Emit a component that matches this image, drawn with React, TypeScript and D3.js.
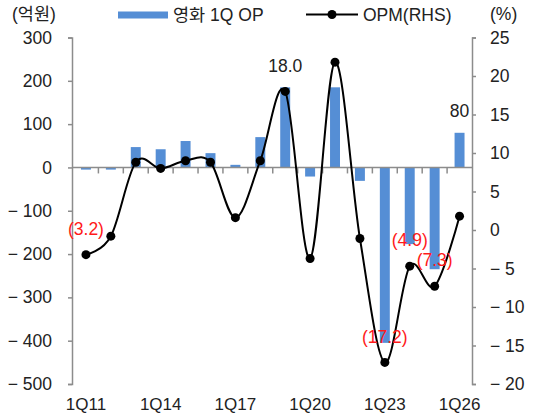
import { useEffect, useRef } from "react";
import * as d3 from "d3";

// Quarterly data, 1Q11 .. 1Q26
const categories = [
  "1Q11", "1Q12", "1Q13", "1Q14", "1Q15", "1Q16", "1Q17", "1Q18",
  "1Q19", "1Q20", "1Q21", "1Q22", "1Q23", "1Q24", "1Q25", "1Q26",
];
// 영화 1Q OP (억원), left axis
const opValues = [-5, -5, 47, 42, 61, 33, 6, 70, 185, -21, 185, -31, -405, -177, -235, 80];
// OPM (%), right axis
const opmValues = [-3.2, -0.8, 8.8, 8.0, 9.0, 8.8, 1.6, 9.0, 18.0, -3.7, 21.8, -1.1, -17.2, -4.7, -7.3, 1.8];

const leftTicks = [-500, -400, -300, -200, -100, 0, 100, 200, 300];
const rightTicks = [-20, -15, -10, -5, 0, 5, 10, 15, 20, 25];
const xTickLabels = ["1Q11", "1Q14", "1Q17", "1Q20", "1Q23", "1Q26"];

const annotations = [
  { cat: "1Q11", text: "(3.2)", series: "opm", color: "#ff1a1a" },
  { cat: "1Q19", text: "18.0", series: "opm", color: "#222222" },
  { cat: "1Q23", text: "(17.2)", series: "opm", color: "#ff1a1a" },
  { cat: "1Q24", text: "(4.9)", series: "opm", color: "#ff1a1a" },
  { cat: "1Q25", text: "(7.3)", series: "opm", color: "#ff1a1a" },
  { cat: "1Q26", text: "80", series: "op", color: "#222222" },
];

const FONT = "'Liberation Sans', Arial, 'Noto Sans CJK KR', sans-serif";
const BAR_COLOR = "#558ed5";
const AXIS_COLOR = "#8c8c8c";
const TEXT_COLOR = "#222222";

export default function App() {
  const svgRef = useRef<SVGSVGElement>(null);

  useEffect(() => {
    if (!svgRef.current) return;
    const width = 535;
    const height = 414;
    const left = 72;
    const right = 472;
    const top = 37.5;
    const bottom = 384;

    const svg = d3.select(svgRef.current);
    svg.selectAll("*").remove();
    svg.attr("width", width).attr("height", height).style("font-family", FONT);

    const x = d3.scaleBand().domain(categories).range([73.5, 472]).padding(0);
    const cx = (c: string) => (x(c) as number) + x.bandwidth() / 2;
    const barW = x.bandwidth() * 0.4;

    const yL = d3.scaleLinear().domain([-500, 300]).range([bottom, top]);
    const yR = d3.scaleLinear().domain([-20, 25]).range([bottom, top]);

    // Bars
    svg
      .append("g")
      .selectAll("rect")
      .data(opValues)
      .join("rect")
      .attr("x", (_, i) => cx(categories[i]) - barW / 2)
      .attr("width", barW)
      .attr("y", d => Math.min(yL(d), yL(0)))
      .attr("height", d => Math.abs(yL(d) - yL(0)))
      .attr("fill", BAR_COLOR);

    // Zero line with category separators
    const zeroY = yL(0);
    svg
      .append("line")
      .attr("x1", left)
      .attr("x2", right)
      .attr("y1", zeroY)
      .attr("y2", zeroY)
      .attr("stroke", AXIS_COLOR)
      .attr("stroke-width", 1.5);
    categories.slice(1).forEach(c => {
      const xb = x(c) as number;
      svg
        .append("line")
        .attr("x1", xb)
        .attr("x2", xb)
        .attr("y1", zeroY)
        .attr("y2", zeroY + 6)
        .attr("stroke", AXIS_COLOR)
        .attr("stroke-width", 1.5);
    });

    // Left axis
    const fmt = (d: number) => (d < 0 ? `\u2212 ${-d}` : `${d}`);
    const gL = svg
      .append("g")
      .attr("transform", `translate(${left},0)`)
      .call(d3.axisLeft(yL).tickValues(leftTicks).tickSize(4).tickPadding(16).tickFormat(d => fmt(+d)));
    gL.selectAll("path, line").attr("stroke", AXIS_COLOR).attr("stroke-width", 1.5);
    gL.selectAll("text").attr("fill", TEXT_COLOR).style("font-size", "17.5px").style("font-family", FONT);

    // Right axis
    const gR = svg
      .append("g")
      .attr("transform", `translate(${right},0)`)
      .call(d3.axisRight(yR).tickValues(rightTicks).tickSize(4).tickPadding(14).tickFormat(d => fmt(+d)));
    gR.selectAll("path, line").attr("stroke", AXIS_COLOR).attr("stroke-width", 1.5);
    gR.selectAll("text").attr("fill", TEXT_COLOR).style("font-size", "17.5px").style("font-family", FONT);

    // X labels
    svg
      .append("g")
      .selectAll("text")
      .data(xTickLabels)
      .join("text")
      .attr("x", d => cx(d))
      .attr("y", 410)
      .attr("text-anchor", "middle")
      .attr("fill", TEXT_COLOR)
      .style("font-size", "17px")
      .text(d => d);

    // OPM line
    const line = d3
      .line<number>()
      .x((_, i) => cx(categories[i]))
      .y(d => yR(d))
      .curve(d3.curveCardinal.tension(0));
    svg
      .append("path")
      .datum(opmValues)
      .attr("fill", "none")
      .attr("stroke", "#000")
      .attr("stroke-width", 2)
      .attr("d", line);
    svg
      .append("g")
      .selectAll("circle")
      .data(opmValues)
      .join("circle")
      .attr("cx", (_, i) => cx(categories[i]))
      .attr("cy", d => yR(d))
      .attr("r", 4.5)
      .attr("fill", "#000");

    // Data labels
    annotations.forEach(a => {
      const i = categories.indexOf(a.cat);
      const yy = a.series === "opm" ? yR(opmValues[i]) - 26 : yL(opValues[i]) - 22;
      svg
        .append("text")
        .attr("x", cx(a.cat))
        .attr("y", yy)
        .attr("dy", "0.35em")
        .attr("text-anchor", "middle")
        .attr("fill", a.color)
        .style("font-size", "17.5px")
        .text(a.text);
    });

    // Units
    svg.append("text").attr("x", 12).attr("y", 20).attr("fill", TEXT_COLOR).style("font-size", "17.5px").text("(억원)");
    svg.append("text").attr("x", 490).attr("y", 20).attr("fill", TEXT_COLOR).style("font-size", "17.5px").text("(%)");

    // Legend
    svg.append("rect").attr("x", 118).attr("y", 11.5).attr("width", 50).attr("height", 7).attr("fill", BAR_COLOR);
    svg.append("text").attr("x", 173).attr("y", 21).attr("fill", TEXT_COLOR).style("font-size", "17.5px").text("영화 1Q OP");
    svg.append("line").attr("x1", 306).attr("x2", 358).attr("y1", 14.5).attr("y2", 14.5).attr("stroke", "#000").attr("stroke-width", 2);
    svg.append("circle").attr("cx", 332).attr("cy", 14.5).attr("r", 4.5).attr("fill", "#000");
    svg.append("text").attr("x", 363).attr("y", 21).attr("fill", TEXT_COLOR).style("font-size", "17.5px").text("OPM(RHS)");
  }, []);

  return (
    <svg ref={svgRef} style={{ position: "fixed", left: 0, top: 0, background: "#fff" }} />
  );
}
